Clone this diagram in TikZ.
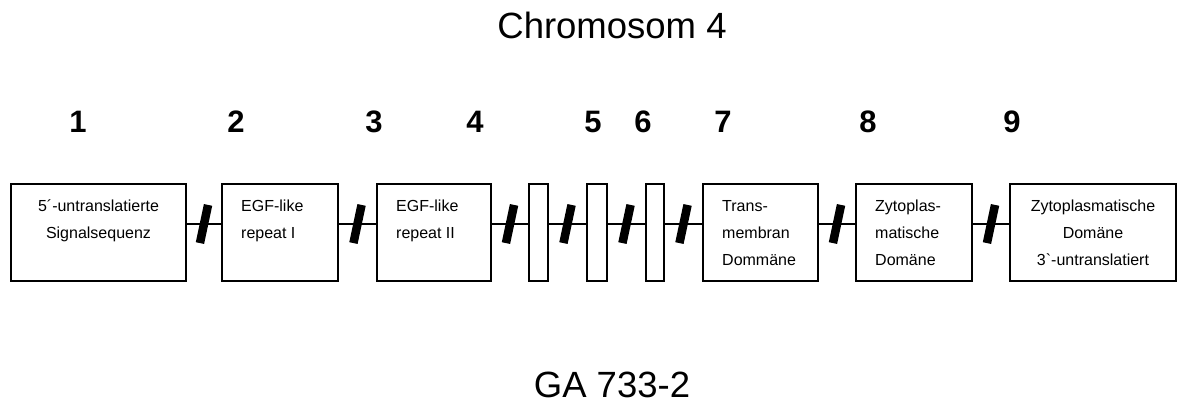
\documentclass[tikz,border=0pt]{standalone}
\usepackage{fontspec}
\setmainfont{Liberation Sans}
\usetikzlibrary{calc}

\tikzset{
  exon/.style={draw, line width=2pt, minimum height=97pt, inner sep=0pt, outer sep=0pt, anchor=north west},
  exontext/.style={inner sep=0pt, font=\fontsize{16}{27}\selectfont},
  link/.style={line width=2pt},
  cut/.style={midway, fill=black, inner sep=0pt, outer sep=0pt, minimum width=8.5pt, minimum height=39pt, rotate=-12},
  exonnum/.style={font=\fontsize{31}{31}\selectfont\bfseries, anchor=base, inner sep=0pt},
  caption/.style={font=\fontsize{36.5}{40}\selectfont, anchor=base, inner sep=0pt}
}

\begin{document}
\begin{tikzpicture}[x=1pt,y=-1pt]
  \useasboundingbox (0,0) rectangle (1178,401);

  % headings
  \node[caption] (chrom) at (612,39) {Chromosom 4};
  \node[caption] (ga) at (612,397) {GA 733-2};

  % exon numbers
  \node[exonnum] (n1) at (78,132) {1};
  \node[exonnum] (n2) at (236,132) {2};
  \node[exonnum] (n3) at (374,132) {3};
  \node[exonnum] (n4) at (475,132) {4};
  \node[exonnum] (n5) at (593,132) {5};
  \node[exonnum] (n6) at (643,132) {6};
  \node[exonnum] (n7) at (723,132) {7};
  \node[exonnum] (n8) at (868,132) {8};
  \node[exonnum] (n9) at (1012,132) {9};

  % exons
  \node[exon, minimum width=175pt] (b1) at (11,184) {};
  \node[exon, minimum width=116pt] (b2) at (222,184) {};
  \node[exon, minimum width=114pt] (b3) at (377,184) {};
  \node[exon, minimum width=19pt] (b4) at (529,184) {};
  \node[exon, minimum width=20pt] (b5) at (587,184) {};
  \node[exon, minimum width=18pt] (b6) at (646,184) {};
  \node[exon, minimum width=115pt] (b7) at (703,184) {};
  \node[exon, minimum width=116pt] (b8) at (856,184) {};
  \node[exon, minimum width=166pt] (b9) at (1010,184) {};

  % exon texts (base = last line)
  \node[exontext, anchor=base, align=center] (t1) at ($(b1.north)+(0,54)$) {5´-untranslatierte\\Signalsequenz};
  \node[exontext, anchor=base west, align=left] (t2) at ($(b2.north west)+(19,54)$) {EGF-like\\repeat I};
  \node[exontext, anchor=base west, align=left] (t3) at ($(b3.north west)+(19,54)$) {EGF-like\\repeat II};
  \node[exontext, anchor=base west, align=left] (t7) at ($(b7.north west)+(19,81)$) {Trans-\\membran\\Dommäne};
  \node[exontext, anchor=base west, align=left] (t8) at ($(b8.north west)+(19,81)$) {Zytoplas-\\matische\\Domäne};
  \node[exontext, anchor=base, align=center] (t9) at ($(b9.north)+(0,81)$) {Zytoplasmatische\\Domäne\\3\textasciigrave-untranslatiert};

  % introns
  \draw[link] ([yshift=8.5pt]b1.east) -- ([yshift=8.5pt]b2.west) node[cut] (s1) {};
  \draw[link] ([yshift=8.5pt]b2.east) -- ([yshift=8.5pt]b3.west) node[cut] (s2) {};
  \draw[link] ([yshift=8.5pt]b3.east) -- ([yshift=8.5pt]b4.west) node[cut] (s3) {};
  \draw[link] ([yshift=8.5pt]b4.east) -- ([yshift=8.5pt]b5.west) node[cut] (s4) {};
  \draw[link] ([yshift=8.5pt]b5.east) -- ([yshift=8.5pt]b6.west) node[cut] (s5) {};
  \draw[link] ([yshift=8.5pt]b6.east) -- ([yshift=8.5pt]b7.west) node[cut] (s6) {};
  \draw[link] ([yshift=8.5pt]b7.east) -- ([yshift=8.5pt]b8.west) node[cut] (s7) {};
  \draw[link] ([yshift=8.5pt]b8.east) -- ([yshift=8.5pt]b9.west) node[cut] (s8) {};
\end{tikzpicture}
\end{document}
